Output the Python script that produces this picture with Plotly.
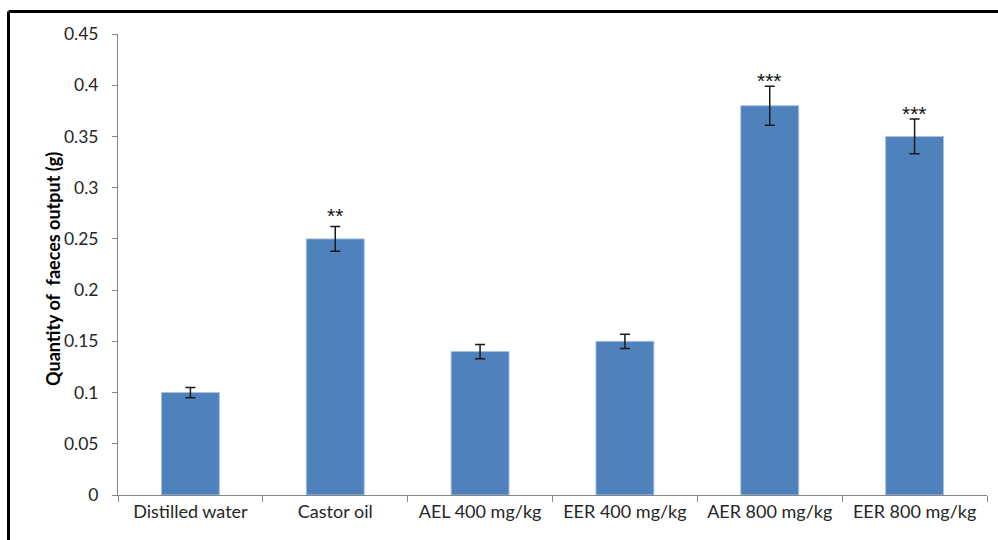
import plotly.graph_objects as go

categories = ["Distilled water", "Castor oil", "AEL 400 mg/kg", "EER 400 mg/kg", "AER 800 mg/kg", "EER 800 mg/kg"]
values = [0.10, 0.25, 0.14, 0.15, 0.38, 0.35]
errors = [0.005, 0.012, 0.007, 0.007, 0.019, 0.017]
stars = ["", "**", "", "", "***", "***"]
y_ticks = [0, 0.05, 0.1, 0.15, 0.2, 0.25, 0.3, 0.35, 0.4, 0.45]
y_tick_text = ["0", "0.05", "0.1", "0.15", "0.2", "0.25", "0.3", "0.35", "0.4", "0.45"]

FONT = "Lato, 'Open Sans', sans-serif"
AX = "#868686"

fig = go.Figure()
fig.add_trace(go.Bar(
    x=categories, y=values,
    marker=dict(color="#4F81BD", line=dict(color="#a8c1e0", width=1)),
    width=0.4,
    error_y=dict(type="data", array=errors, visible=True, color="#1a1a1a", thickness=1.5, width=5),
))

for c, v, e, s in zip(categories, values, errors, stars):
    if s:
        fig.add_annotation(x=c, y=v + e, text=s, showarrow=False, yanchor="middle",
                           yshift=11 if len(s) == 2 else 6,
                           font=dict(family="Liberation Sans, Arial, sans-serif", size=21, color="#111111"))

fig.add_annotation(text="<b>Quantity of  faeces output (g)</b>", textangle=-90,
                   xref="paper", yref="paper", x=-0.075, y=0.49, xanchor="center", yanchor="middle",
                   showarrow=False, font=dict(family=FONT, size=18, color="#000000"))

# outer frame (top and left edges visible)
fig.add_shape(type="line", xref="paper", yref="paper", x0=-0.126, x1=1.2, y0=1.0488, y1=1.0488,
              line=dict(color="black", width=3))
fig.add_shape(type="line", xref="paper", yref="paper", x0=-0.126, x1=-0.126, y0=1.0488, y1=-0.2,
              line=dict(color="black", width=3))

fig.update_layout(
    width=998, height=540,
    margin=dict(l=118, r=11, t=34, b=45),
    paper_bgcolor="white", plot_bgcolor="white",
    showlegend=False,
    font=dict(family=FONT, size=15, color="#262626"),
)
fig.update_yaxes(range=[0, 0.45], tickvals=y_ticks, ticktext=y_tick_text,
                 showgrid=False, zeroline=False, showline=True, linecolor=AX, linewidth=1,
                 ticks="outside", ticklen=5, tickcolor=AX, ticklabelstandoff=10,
                 tickfont=dict(family=FONT, size=17.5, color="#262626"))
fig.update_xaxes(showgrid=False, showline=True, linecolor=AX, linewidth=1,
                 ticks="outside", ticklen=6, tickcolor=AX, tickson="boundaries",
                 tickfont=dict(family=FONT, size=18, color="#262626"))

fig.write_html("out.html")
